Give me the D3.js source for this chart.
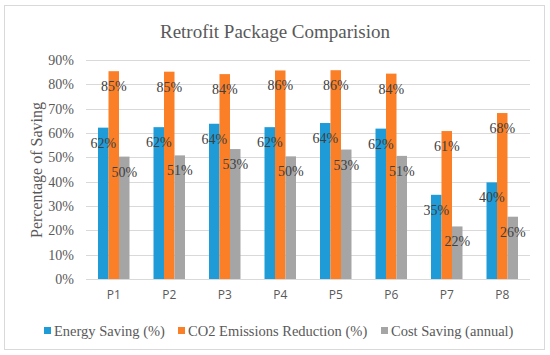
<!DOCTYPE html>
<html>
<head>
<meta charset="utf-8">
<title>Retrofit Package Comparision</title>
<style>
  body { margin: 0; background: #fff; }
  svg text { fill: #595959; }
</style>
<script src="https://d3js.org/d3.v7.min.js"></script>
</head>
<body>
<svg id="chart" width="550" height="355"></svg>
<script>
// data
var packages = ["P1", "P2", "P3", "P4", "P5", "P6", "P7", "P8"];
var energySaving = [62.2, 62.4, 63.8, 62.4, 64.1, 61.8, 34.6, 39.7];
var co2Reduction = [85.4, 85.2, 84.2, 85.7, 85.8, 84.4, 60.8, 68.2];
var costSaving = [50.3, 50.8, 53.4, 50.4, 53.2, 50.6, 21.6, 25.6];
var seriesNames = ["Energy Saving (%)", "CO2 Emissions Reduction (%)", "Cost Saving (annual)"];
var yTicks = [0, 10, 20, 30, 40, 50, 60, 70, 80, 90];

var colors = ["#1f9bd7", "#fa7f27", "#a5a5a5"];
var allSeries = [energySaving, co2Reduction, costSaving];

var svg = d3.select("#chart");
var serif = "'Liberation Serif', 'Times New Roman', serif";
var sans = "'Open Sans', 'Liberation Sans', sans-serif";

// outer frame
svg.append("rect")
  .attr("x", 4.5).attr("y", 5.5).attr("width", 540).attr("height", 344)
  .attr("fill", "#fff").attr("stroke", "#d9d9d9");

// title
svg.append("text")
  .attr("x", 275).attr("y", 38)
  .attr("text-anchor", "middle")
  .style("font-family", serif).style("font-size", "19px")
  .text("Retrofit Package Comparision");

var x = d3.scaleBand().domain(packages).range([86, 530]);
var xInner = d3.scaleBand().domain([0, 1, 2]).range([0, 31.5]);
var y = d3.scaleLinear().domain([0, 90]).range([279, 60]);

// gridlines
svg.append("g").selectAll("line")
  .data(yTicks)
  .enter().append("line")
  .attr("x1", 86).attr("x2", 530)
  .attr("y1", function(d){ return Math.round(y(d)) + 0.5; })
  .attr("y2", function(d){ return Math.round(y(d)) + 0.5; })
  .attr("stroke", "#d9d9d9").attr("stroke-width", 1.2);

// y axis labels
var yAxis = d3.axisLeft(y).tickValues(yTicks)
  .tickFormat(function(d){ return d + "%"; })
  .tickSize(0).tickPadding(0);
var gy = svg.append("g").attr("transform", "translate(74,0)").call(yAxis);
gy.select(".domain").remove();
gy.selectAll("text")
  .style("font-family", serif).style("font-size", "14px").style("fill", "#595959");

// x axis labels
var xAxis = d3.axisBottom(x).tickSize(0).tickPadding(0);
var gx = svg.append("g").attr("transform", "translate(0,290)").call(xAxis);
gx.select(".domain").remove();
gx.selectAll("text")
  .style("font-family", sans).style("font-size", "12px").style("fill", "#595959");

// y title
svg.append("text")
  .attr("transform", "translate(42,170) rotate(-90)")
  .attr("text-anchor", "middle")
  .style("font-family", serif).style("font-size", "16px")
  .text("Percentage of Saving");

// bars
var offset = (x.bandwidth() - 31.5) / 2;
allSeries.forEach(function(values, s){
  var g = svg.append("g");
  g.selectAll("rect")
    .data(values)
    .enter().append("rect")
    .attr("x", function(d, i){ return x(packages[i]) + offset + xInner(s); })
    .attr("y", function(d){ return y(d); })
    .attr("width", xInner.bandwidth())
    .attr("height", function(d){ return y(0) - y(d); })
    .attr("fill", colors[s]);
});

// data labels
allSeries.forEach(function(values, s){
  svg.append("g").selectAll("text")
    .data(values)
    .enter().append("text")
    .attr("x", function(d, i){ return x(packages[i]) + offset + xInner(s) + xInner.bandwidth() / 2; })
    .attr("y", function(d){ return y(d) + 20; })
    .attr("text-anchor", "middle")
    .style("font-family", serif).style("font-size", "14px").style("fill", "#404040")
    .text(function(d){ return Math.round(d) + "%"; });
});

// legend
var legendX = [44, 178, 381];
var legend = svg.append("g").selectAll("g")
  .data(seriesNames)
  .enter().append("g")
  .attr("transform", function(d, i){ return "translate(" + legendX[i] + ",331)"; });
legend.append("rect")
  .attr("x", 0).attr("y", -4).attr("width", 7).attr("height", 7)
  .attr("fill", function(d, i){ return colors[i]; });
legend.append("text")
  .attr("x", 10).attr("y", 5)
  .style("font-family", serif).style("font-size", "14.5px")
  .text(function(d){ return d; });
</script>
</body>
</html>
